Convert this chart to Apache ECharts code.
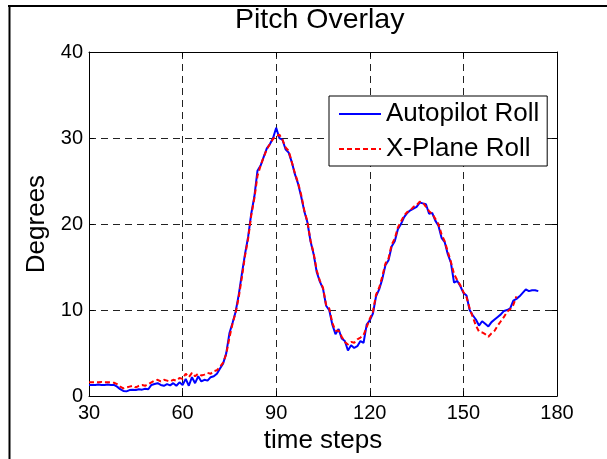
<!DOCTYPE html>
<html>
<head>
<meta charset="utf-8">
<script src="https://cdn.jsdelivr.net/npm/echarts@6/dist/echarts.min.js"></script>
<style>
html,body{margin:0;padding:0;background:#fff;}
#chart{width:607px;height:459px;}
</style>
</head>
<body>
<div id="chart"></div>
<script>
const titleText = 'Pitch Overlay';
const xAxisName = 'time steps';
const yAxisName = 'Degrees';
const seriesNames = ['Autopilot Roll', 'X-Plane Roll'];
const startStep = 30;
const xTicks = [30, 60, 90, 120, 150, 180];
const yTicks = [0, 10, 20, 30, 40];

// Autopilot Roll, one value per time step starting at 30
const autopilotRoll = [
  1.3, 1.3, 1.3, 1.35, 1.3, 1.3, 1.35, 1.3, 1.3, 1.1,
  0.8, 0.6, 0.55, 0.7, 0.75, 0.7, 0.8, 0.75, 0.85, 0.8,
  1.3, 1.4, 1.5, 1.3, 1.2, 1.4, 1.25, 1.5, 1.2, 1.6,
  1.3, 2.0, 1.2, 2.2, 1.5, 2.3, 1.7, 1.9, 1.8, 2.2,
  2.3, 2.6, 3.2, 3.8, 5.0, 7.3, 8.5, 9.8, 11.8, 14.2,
  16.5, 18.5, 21.2, 23.2, 26.2, 26.8, 27.8, 28.8, 29.3, 30.0,
  31.2, 30.0, 29.8, 28.7, 28.3, 27.2, 25.8, 24.7, 23.2, 21.5,
  20.2, 18.0, 16.5, 14.4, 13.3, 12.5, 10.5, 10.0, 8.3, 7.2,
  7.8, 6.7, 6.4, 5.3, 5.9, 5.6, 5.8, 6.4, 6.2, 8.3,
  8.8, 9.6, 11.6, 12.4, 13.6, 15.2, 15.8, 17.4, 18.0, 19.4,
  20.0, 20.8, 21.3, 21.6, 21.8, 22.0, 22.5, 22.4, 22.3, 21.2,
  21.3, 20.4, 19.8, 18.4, 17.9, 16.5, 15.5, 13.2, 13.4, 12.8,
  12.0, 11.7, 10.0, 9.4, 8.9, 8.2, 8.7, 8.4, 8.1, 8.6,
  8.9, 9.2, 9.5, 9.9, 10.0, 10.2, 11.1, 11.3, 11.6, 12.0,
  12.4, 12.2, 12.3, 12.3, 12.2
];

// X-Plane Roll, one value per time step starting at 30
const xplaneRoll = [
  1.6, 1.6, 1.6, 1.6, 1.65, 1.6, 1.6, 1.6, 1.55, 1.4,
  1.1, 0.9, 1.0, 1.1, 1.2, 1.0, 1.2, 1.3, 1.2, 1.4,
  1.6, 1.8, 1.9, 1.7, 1.9, 1.8, 1.7, 1.9, 1.8, 2.1,
  2.0, 2.6, 2.2, 2.7, 2.3, 2.6, 2.4, 2.5, 2.7, 2.6,
  2.9, 3.0, 3.4, 3.9, 4.9, 6.8, 8.4, 9.7, 11.5, 13.8,
  16.3, 18.3, 21.0, 23.0, 25.6, 26.8, 27.8, 28.7, 29.3, 29.9,
  30.2, 30.4, 29.8, 28.9, 28.5, 27.2, 25.9, 24.8, 23.4, 21.6,
  20.3, 18.1, 16.6, 14.6, 13.4, 12.6, 10.6, 10.2, 8.5, 7.6,
  7.6, 6.9, 6.3, 6.0, 6.3, 6.2, 6.6, 6.8, 7.1, 8.0,
  9.0, 9.8, 11.8, 12.6, 13.9, 15.4, 16.0, 17.6, 18.3, 19.6,
  20.3, 21.0, 21.4, 21.6, 22.0, 22.2, 22.6, 22.5, 22.0, 21.5,
  21.2, 20.6, 20.0, 18.8, 18.0, 16.8, 15.6, 14.2, 13.5, 12.9,
  12.1, 11.5, 10.2, 9.2, 8.2, 7.5, 7.4, 7.2, 6.9, 7.3,
  7.6, 8.2, 8.7, 9.2, 9.8, 10.1, 10.6, 11.6
];

const toPairs = arr => arr.map((v, i) => [startStep + i, v]);
const FONT = '"Liberation Sans", Arial, Helvetica, sans-serif';

const chart = echarts.init(document.getElementById('chart'), null, {renderer: 'canvas'});

const baseX = {
  type: 'value',
  min: xTicks[0],
  max: xTicks[xTicks.length - 1],
  interval: xTicks[1] - xTicks[0],
  axisLine: {show: true, onZero: false, lineStyle: {color: '#000', width: 1}},
  axisTick: {show: true, inside: true, length: 5, lineStyle: {color: '#000'}}
};
const baseY = {
  type: 'value',
  min: yTicks[0],
  max: yTicks[yTicks.length - 1],
  interval: yTicks[1] - yTicks[0],
  axisLine: {show: true, onZero: false, lineStyle: {color: '#000', width: 1}},
  axisTick: {show: true, inside: true, length: 5, lineStyle: {color: '#000'}}
};

chart.setOption({
  animation: false,
  backgroundColor: '#fff',
  textStyle: {fontFamily: FONT},
  title: {
    text: titleText,
    left: 235,
    top: 6,
    padding: 0,
    textStyle: {fontFamily: FONT, fontSize: 28.5, fontWeight: 'normal', color: '#000'}
  },
  grid: {left: 89, right: 50, top: 52, bottom: 57, containLabel: false},
  legend: {
    orient: 'vertical',
    left: 329,
    top: 96,
    padding: [5, 8, 4, 9],
    itemGap: 9,
    itemWidth: 42,
    itemHeight: 14,
    borderColor: '#000',
    borderWidth: 1,
    backgroundColor: '#fff',
    itemStyle: {opacity: 0},
    textStyle: {fontFamily: FONT, fontSize: 26, color: '#000'},
    data: seriesNames
  },
  xAxis: [
    Object.assign({}, baseX, {
      position: 'bottom',
      name: xAxisName,
      nameLocation: 'middle',
      nameGap: 26,
      nameTextStyle: {fontFamily: FONT, fontSize: 26, color: '#000'},
      axisLabel: {show: true, margin: 7, fontFamily: FONT, fontSize: 20, color: '#000'},
      splitLine: {show: true, lineStyle: {color: '#222', width: 1, type: [7, 5]}}
    }),
    Object.assign({}, baseX, {
      position: 'top',
      axisLabel: {show: false},
      splitLine: {show: false}
    })
  ],
  yAxis: [
    Object.assign({}, baseY, {
      position: 'left',
      name: yAxisName,
      nameLocation: 'middle',
      nameGap: 36,
      nameRotate: 90,
      nameTextStyle: {fontFamily: FONT, fontSize: 26, color: '#000'},
      axisLabel: {show: true, margin: 6, fontFamily: FONT, fontSize: 20, color: '#000'},
      splitLine: {show: true, lineStyle: {color: '#222', width: 1, type: [7, 5]}}
    }),
    Object.assign({}, baseY, {
      position: 'right',
      axisLabel: {show: false},
      splitLine: {show: false}
    })
  ],
  series: [
    {
      name: seriesNames[0],
      type: 'line',
      data: toPairs(autopilotRoll),
      showSymbol: false,
      symbol: 'none',
      color: '#0000ff',
      lineStyle: {color: '#0000ff', width: 2},
      z: 3
    },
    {
      name: seriesNames[1],
      type: 'line',
      data: toPairs(xplaneRoll),
      showSymbol: false,
      symbol: 'none',
      color: '#ff0000',
      lineStyle: {color: '#ff0000', width: 2, type: [5, 3]},
      z: 4
    }
  ],
  graphic: [
    {type: 'line', silent: true, shape: {x1: 8, y1: 6, x2: 607, y2: 6}, style: {stroke: '#000', lineWidth: 2}},
    {type: 'line', silent: true, shape: {x1: 9.5, y1: 5, x2: 9.5, y2: 459}, style: {stroke: '#000', lineWidth: 2}}
  ]
});
</script>
</body>
</html>
